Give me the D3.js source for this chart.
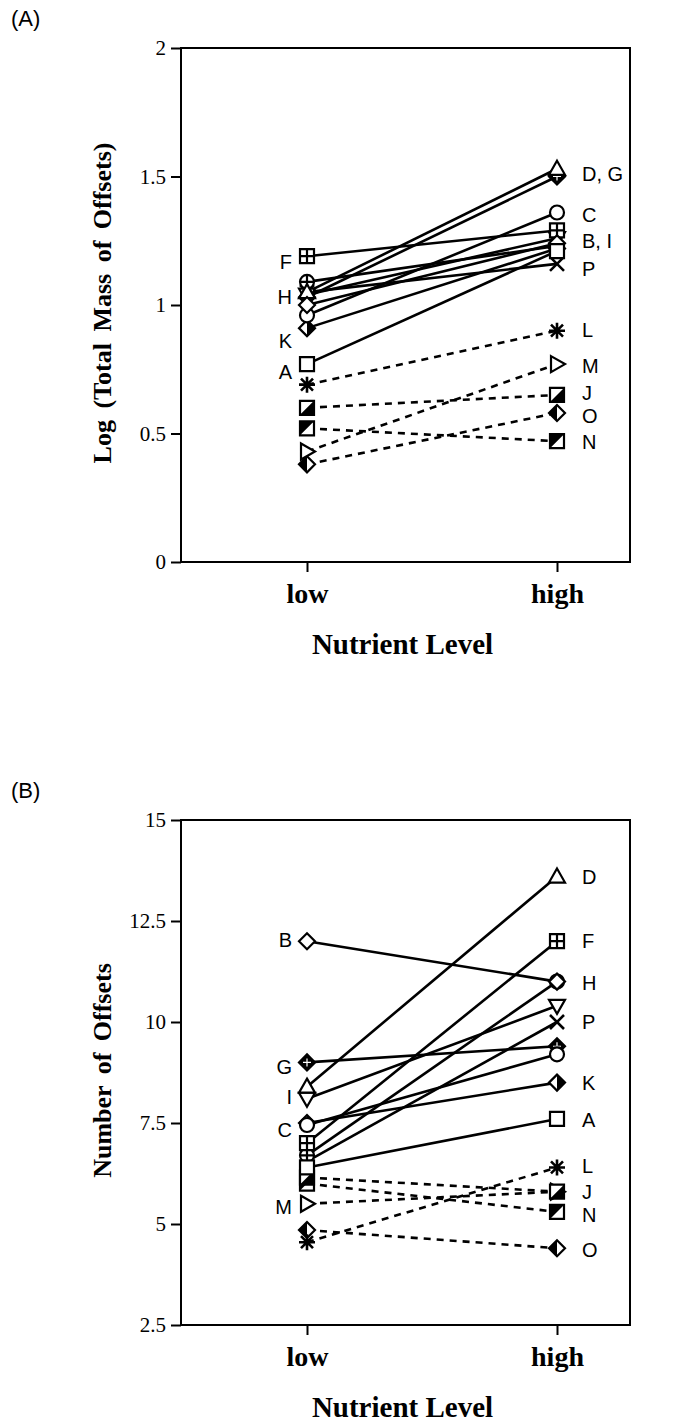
<!DOCTYPE html>
<html>
<head>
<meta charset="utf-8">
<script src="https://cdn.jsdelivr.net/npm/d3@7"></script>
<style>
  body { margin: 0; background: #fff; }
  svg { display: block; }
</style>
</head>
<body>
<div id="chart"></div>
<script>
// Species and their marker symbols
var species = ["A", "B", "C", "D", "F", "G", "H", "I", "J", "K", "L", "M", "N", "O", "P"];
var symbols = ["square", "diamond", "circle", "triUp", "squarePlus", "diamondCross", "circlePlus",
               "triDown", "halfSqBR", "halfDiamR", "asterisk", "triRight", "halfSqTL", "halfDiamL", "cross"];
var dashed  = [false, false, false, false, false, false, false, false, true, false, true, true, true, true, false];
var levels = ["low", "high"];

// Panel A: log total mass of offsets
var massLow  = [0.77, 1.00, 0.96, 1.05, 1.19, 1.03, 1.09, 1.04, 0.60, 0.91, 0.69, 0.43, 0.52, 0.38, 1.05];
var massHigh = [1.21, 1.24, 1.36, 1.53, 1.29, 1.50, 1.23, 1.26, 0.65, 1.22, 0.90, 0.77, 0.47, 0.58, 1.16];
var massTicks = [0, 0.5, 1, 1.5, 2];
var massLabelsLow  = [{t: "F", v: 1.17}, {t: "H", v: 1.03}, {t: "K", v: 0.86}, {t: "A", v: 0.74}];
var massLabelsHigh = [{t: "D, G", v: 1.51}, {t: "C", v: 1.35}, {t: "B, I", v: 1.25}, {t: "P", v: 1.14},
                      {t: "L", v: 0.905}, {t: "M", v: 0.765}, {t: "J", v: 0.66}, {t: "O", v: 0.57}, {t: "N", v: 0.466}];

// Panel B: number of offsets
var countLow  = [6.4, 12.0, 7.45, 8.4, 7.0, 9.0, 6.7, 8.1, 6.15, 7.5, 4.55, 5.5, 6.0, 4.85, 6.55];
var countHigh = [7.6, 11.0, 9.2, 13.6, 12.0, 9.4, 11.0, 10.4, 5.8, 8.5, 6.4, 5.8, 5.3, 4.4, 10.0];
var countTicks = [2.5, 5, 7.5, 10, 12.5, 15];
var countLabelsLow  = [{t: "B", v: 12.03}, {t: "G", v: 8.9}, {t: "I", v: 8.14}, {t: "C", v: 7.33}, {t: "M", v: 5.42}];
var countLabelsHigh = [{t: "D", v: 13.6}, {t: "F", v: 12.0}, {t: "H", v: 10.97}, {t: "P", v: 10.0}, {t: "K", v: 8.5},
                       {t: "A", v: 7.57}, {t: "L", v: 6.44}, {t: "J", v: 5.79}, {t: "N", v: 5.22}, {t: "O", v: 4.36}];

var W = 692, H = 1425;
var left = 181, right = 630;
var serif = "'Liberation Serif', 'Times New Roman', serif";
var sans = "'Liberation Sans', Arial, sans-serif";

var svg = d3.select("#chart").append("svg")
  .attr("width", W).attr("height", H);

var x = d3.scalePoint().domain(levels).range([307, 557]);

// draw one marker symbol centred at 0,0
function marker(g, sym) {
  var s = 7;
  var sq = "M" + -s + "," + -s + "H" + s + "V" + s + "H" + -s + "Z";
  var dm = "M0,-8L8,0L0,8L-8,0Z";
  var open = function (d) { return g.append("path").attr("d", d).attr("fill", "#fff"); };
  var blk = function (d) { return g.append("path").attr("d", d).attr("fill", "#000").attr("stroke", "none"); };
  if (sym === "square") open(sq);
  else if (sym === "diamond") open(dm);
  else if (sym === "circle") g.append("circle").attr("r", 7).attr("fill", "#fff");
  else if (sym === "triUp") open("M0,-8L8,6L-8,6Z");
  else if (sym === "triDown") open("M0,8L8,-6L-8,-6Z");
  else if (sym === "triRight") open("M-6,-8L8,0L-6,8Z");
  else if (sym === "squarePlus") { open(sq); g.append("path").attr("d", "M0,-7V7M-7,0H7"); }
  else if (sym === "circlePlus") { g.append("circle").attr("r", 7).attr("fill", "#fff"); g.append("path").attr("d", "M0,-7V7M-7,0H7"); }
  else if (sym === "diamondCross") {
    g.append("path").attr("d", dm).attr("fill", "#000");
    g.append("path").attr("d", "M0,-4V4M-4,0H4").attr("stroke", "#fff").attr("stroke-width", 1.2);
  }
  else if (sym === "halfSqBR") { open(sq); blk("M7,-7L7,7L-7,7Z"); }
  else if (sym === "halfSqTL") { open(sq); blk("M-7,-7L7,-7L-7,7Z"); }
  else if (sym === "halfDiamR") { open(dm); blk("M0,-8L8,0L0,8Z"); }
  else if (sym === "halfDiamL") { open(dm); blk("M0,-8L-8,0L0,8Z"); }
  else if (sym === "asterisk") g.append("path").attr("d", "M0,-8V8M-8,0H8M-6,-6L6,6M-6,6L6,-6").attr("stroke-width", 2.6);
  else if (sym === "cross") g.append("path").attr("d", "M-7,-7L7,7M-7,7L7,-7").attr("stroke-width", 2.6);
}

function panel(opt) {
  var y = d3.scaleLinear().domain(opt.domain).range([opt.bottom, opt.top]);
  var g = svg.append("g");

  // panel tag
  g.append("text").attr("x", 11).attr("y", opt.top - 22)
    .attr("font-family", sans).attr("font-size", 22).text(opt.tag);

  // frame
  g.append("rect").attr("x", left).attr("y", opt.top)
    .attr("width", right - left).attr("height", opt.bottom - opt.top)
    .attr("fill", "none").attr("stroke", "#000").attr("stroke-width", 2);

  var yAxis = d3.axisLeft(y).tickValues(opt.ticks).tickFormat(function (d) { return String(d); })
    .tickSize(10).tickPadding(5).tickSizeOuter(0);
  var ya = g.append("g").attr("transform", "translate(" + left + ",0)").call(yAxis);
  ya.select(".domain").remove();
  ya.selectAll("line").attr("stroke-width", 2);
  ya.selectAll("text").attr("font-family", serif).attr("font-size", 21).attr("fill", "#000");

  var xAxis = d3.axisBottom(x).tickSize(10).tickPadding(11).tickSizeOuter(0);
  var xa = g.append("g").attr("transform", "translate(0," + opt.bottom + ")").call(xAxis);
  xa.select(".domain").remove();
  xa.selectAll("line").attr("stroke-width", 2);
  xa.selectAll("text").attr("font-family", serif).attr("font-size", 28)
    .attr("font-weight", "bold").attr("fill", "#000");

  // axis titles
  g.append("text").attr("x", (left + right) / 2 - 3).attr("y", opt.bottom + 92)
    .attr("text-anchor", "middle").attr("font-family", serif).attr("font-weight", "bold")
    .attr("font-size", 29).text("Nutrient Level");
  g.append("text")
    .attr("transform", "translate(111," + ((opt.top + opt.bottom) / 2 - 2) + ") rotate(-90)")
    .attr("text-anchor", "middle").attr("font-family", serif).attr("font-weight", "bold")
    .attr("font-size", 26).attr("word-spacing", 5).text(opt.ytitle);

  // connecting lines
  g.append("g").selectAll("line").data(species).join("line")
    .attr("x1", x("low")).attr("x2", x("high"))
    .attr("y1", function (d, i) { return y(opt.low[i]); })
    .attr("y2", function (d, i) { return y(opt.high[i]); })
    .attr("stroke", "#000").attr("stroke-width", 2.6)
    .attr("stroke-dasharray", function (d, i) { return dashed[i] ? "7,6" : null; });

  // markers, drawn from last species to first so earlier ones sit on top
  levels.forEach(function (lev) {
    var vals = lev === "low" ? opt.low : opt.high;
    for (var i = species.length - 1; i >= 0; i--) {
      var mg = g.append("g")
        .attr("transform", "translate(" + x(lev) + "," + y(vals[i]) + ")")
        .attr("stroke", "#000").attr("stroke-width", 2.2).attr("fill", "none");
      marker(mg, symbols[i]);
    }
  });

  // species labels
  g.append("g").selectAll("text").data(opt.labLow).join("text")
    .attr("x", x("low") - 15).attr("y", function (d) { return y(d.v); })
    .attr("dy", "0.36em").attr("text-anchor", "end")
    .attr("font-family", sans).attr("font-size", 20).text(function (d) { return d.t; });
  g.append("g").selectAll("text").data(opt.labHigh).join("text")
    .attr("x", x("high") + 25).attr("y", function (d) { return y(d.v); })
    .attr("dy", "0.36em").attr("font-family", sans).attr("font-size", 20)
    .text(function (d) { return d.t; });
}

panel({ tag: "(A)", top: 48, bottom: 562, domain: [0, 2], ticks: massTicks,
        low: massLow, high: massHigh, labLow: massLabelsLow, labHigh: massLabelsHigh,
        ytitle: "Log (Total Mass of Offsets)" });

panel({ tag: "(B)", top: 820, bottom: 1325, domain: [2.5, 15], ticks: countTicks,
        low: countLow, high: countHigh, labLow: countLabelsLow, labHigh: countLabelsHigh,
        ytitle: "Number of Offsets" });
</script>
</body>
</html>
